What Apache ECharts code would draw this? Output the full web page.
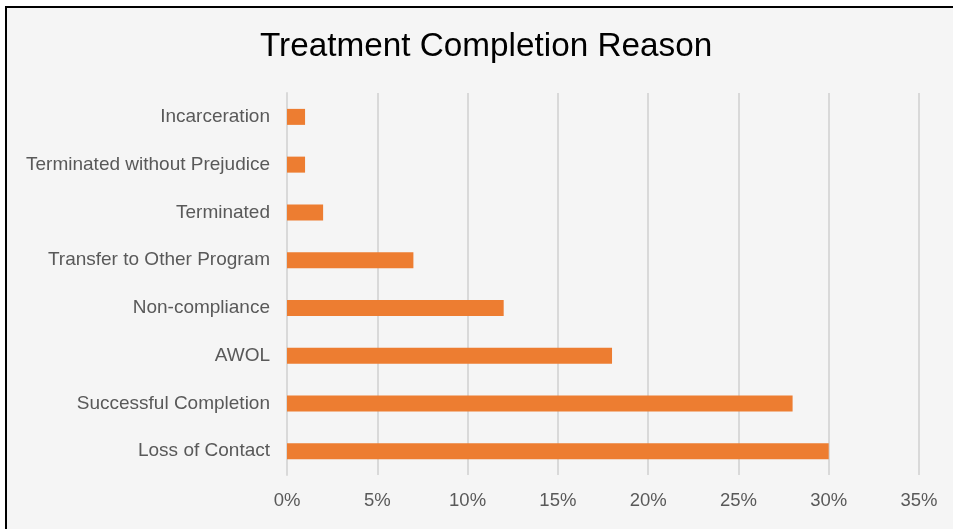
<!DOCTYPE html>
<html>
<head>
<meta charset="utf-8">
<script src="https://cdn.jsdelivr.net/npm/echarts@6/dist/echarts.min.js"></script>
<style>
  html, body { margin: 0; padding: 0; background: #ffffff; overflow: hidden; }
  #frame {
    position: absolute; left: 5px; top: 6px; right: 0; bottom: 0;
    border-left: 2px solid #000; border-top: 2px solid #000;
    background: #f5f5f5;
  }
  #chart { position: absolute; left: 0; top: 0; width: 953px; height: 529px; }
</style>
</head>
<body>
<div id="frame"></div>
<div id="chart"></div>
<script>
const categories = [
  'Loss of Contact',
  'Successful Completion',
  'AWOL',
  'Non-compliance',
  'Transfer to Other Program',
  'Terminated',
  'Terminated without Prejudice',
  'Incarceration'
];
const shares = [30, 28, 18, 12, 7, 2, 1, 1];

const chart = echarts.init(document.getElementById('chart'));

chart.setOption({
  backgroundColor: 'transparent',
  animation: false,
  title: {
    text: 'Treatment Completion Reason',
    left: 255,
    top: 25,
    textStyle: {
      fontFamily: 'Liberation Sans',
      fontSize: 33.3,
      fontWeight: 'normal',
      color: '#000000'
    }
  },
  grid: { left: 287, right: 34, top: 93, bottom: 54 },
  xAxis: {
    type: 'value',
    min: 0,
    max: 35,
    interval: 5,
    axisLine: { show: false },
    axisTick: { show: false },
    axisLabel: {
      formatter: '{value}%',
      margin: 16,
      fontFamily: 'Liberation Sans',
      fontSize: 18.5,
      color: '#595959'
    },
    splitLine: { lineStyle: { color: '#d9d9d9', width: 2 } }
  },
  yAxis: {
    type: 'category',
    data: categories,
    axisLine: { show: true, lineStyle: { color: '#d9d9d9', width: 2 } },
    axisTick: { show: false },
    axisLabel: {
      margin: 17,
      fontFamily: 'Liberation Sans',
      fontSize: 19,
      color: '#595959'
    }
  },
  series: [{
    type: 'bar',
    data: shares,
    barWidth: 16,
    itemStyle: { color: '#ed7d31' }
  }]
});
</script>
</body>
</html>
